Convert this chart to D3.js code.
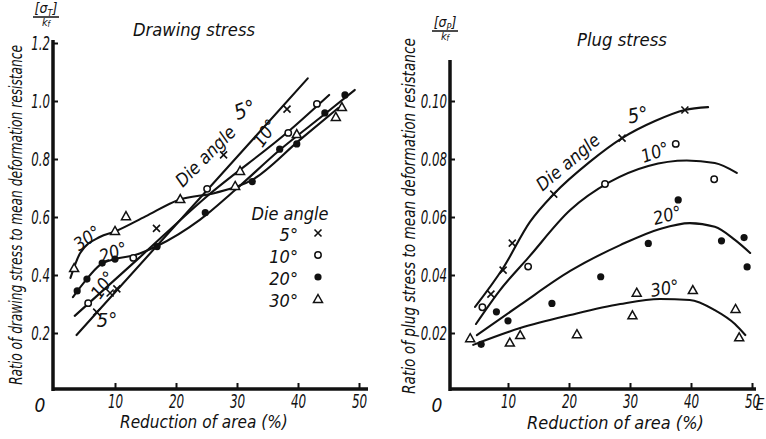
<!DOCTYPE html>
<html>
<head>
<meta charset="utf-8">
<script src="https://cdn.jsdelivr.net/npm/d3@7"></script>
<style>
  body { margin: 0; background: #fff; }
  svg text { font-family: "Liberation Sans Narrow", "DejaVu Sans Condensed", sans-serif; font-style: italic; fill: #111; }
</style>
</head>
<body>
<svg id="chart" width="766" height="439"></svg>
<script>
// ---- data ----
const xTicks = [10, 20, 30, 40, 50];
const drawTicks = [0.2, 0.4, 0.6, 0.8, 1.0, 1.2];
const plugTicks = [0.02, 0.04, 0.06, 0.08, 0.10];
const angles = ["5°", "10°", "20°", "30°"];

// drawing stress: fitted curves (reduction %, ratio)
const drawCurve5 = [[3.7, 0.193], [41.6, 1.078]];
const drawCurve10 = [[3.4, 0.259], [14, 0.46], [25, 0.67], [38.7, 0.9], [45.1, 1.021]];
const drawCurve20 = [[3.1, 0.324], [5.1, 0.379], [7.5, 0.434], [10, 0.455], [13.3, 0.469], [16.9, 0.5],
  [23.9, 0.59], [29.7, 0.693], [37, 0.831], [44.4, 0.955], [49.3, 1.038]];
const drawCurve30 = [[2.7, 0.39], [4.3, 0.476], [7.5, 0.531], [10, 0.55], [15, 0.602], [20.4, 0.659],
  [26.4, 0.683], [32.5, 0.728], [40.3, 0.866], [46.6, 0.976]];

// drawing stress: measured points
const drawPts5 = [[7.0, 0.272], [9.2, 0.338], [10.3, 0.352], [16.8, 0.561], [27.8, 0.814], [38.2, 0.972]];
const drawPts10 = [[5.6, 0.303], [13.0, 0.459], [25.1, 0.697], [38.4, 0.89], [43.1, 0.99]];
const drawPts20 = [[3.8, 0.345], [5.4, 0.386], [7.9, 0.441], [10.0, 0.455], [16.9, 0.498], [24.8, 0.615],
  [32.5, 0.722], [37.0, 0.834], [39.8, 0.852], [44.4, 0.959], [47.7, 1.021]];
const drawPts30 = [[3.3, 0.424], [10.0, 0.552], [11.8, 0.603], [20.7, 0.662], [30.5, 0.759], [29.7, 0.707],
  [39.8, 0.886], [46.2, 0.945], [47.2, 0.979]];

// plug stress: fitted curves
const plugCurve5 = [[4.6, 0.029], [9.2, 0.0424], [13.6, 0.0583], [17.5, 0.0679], [23.4, 0.079],
  [28.7, 0.0872], [34.1, 0.0931], [39.0, 0.0969], [42.8, 0.0979]];
const plugCurve10 = [[4.75, 0.0231], [8.7, 0.0348], [13.3, 0.0459], [20.2, 0.0624], [26.7, 0.0721],
  [33.0, 0.0776], [39.3, 0.0795], [43.9, 0.0786], [47.5, 0.0752]];
const plugCurve20 = [[4.9, 0.0193], [12.0, 0.0297], [20.2, 0.0414], [28.4, 0.0503], [34.9, 0.0559],
  [39.8, 0.0579], [43.9, 0.0566], [47.2, 0.0521], [49.7, 0.0476]];
const plugCurve30 = [[4.3, 0.0159], [12.0, 0.0217], [20.2, 0.0262], [28.4, 0.03], [34.9, 0.0317],
  [39.8, 0.0314], [43.9, 0.0279], [47.2, 0.0231], [48.9, 0.0193]];

// plug stress: measured points
const plugPts5 = [[7.2, 0.0334], [9.2, 0.0417], [10.7, 0.051], [17.5, 0.0679], [28.7, 0.0872], [39.0, 0.0969]];
const plugPts10 = [[5.8, 0.0289], [13.3, 0.0429], [25.9, 0.0714], [37.5, 0.0852], [43.8, 0.073]];
const plugPts20 = [[5.6, 0.0161], [8.1, 0.0273], [10.0, 0.0242], [17.2, 0.0302], [25.2, 0.0394],
  [33.0, 0.0509], [37.9, 0.0659], [45.0, 0.0518], [48.7, 0.0529], [49.2, 0.0428]];
const plugPts30 = [[3.8, 0.0182], [10.3, 0.0167], [12.0, 0.0193], [21.3, 0.0196], [31.1, 0.0339],
  [30.4, 0.0261], [40.3, 0.0348], [47.3, 0.0283], [47.9, 0.0185]];

const svg = d3.select("#chart");
const ink = "#111";

// draws one marker of the given kind at (cx, cy)
function marker(g, kind, cx, cy) {
  if (kind === 0) {
    g.append("path").attr("d", `M${cx - 3.5},${cy - 3.5}L${cx + 3.5},${cy + 3.5}M${cx + 3.5},${cy - 3.5}L${cx - 3.5},${cy + 3.5}`)
      .attr("stroke", ink).attr("stroke-width", 1.6);
  } else if (kind === 1) {
    g.append("circle").attr("cx", cx).attr("cy", cy).attr("r", 3.2)
      .attr("fill", "#fff").attr("stroke", ink).attr("stroke-width", 1.5);
  } else if (kind === 2) {
    g.append("circle").attr("cx", cx).attr("cy", cy).attr("r", 3.6).attr("fill", ink);
  } else {
    g.append("path").attr("d", `M${cx},${cy - 4.5}L${cx + 4.5},${cy + 3.5}L${cx - 4.5},${cy + 3.5}Z`)
      .attr("fill", "#fff").attr("stroke", ink).attr("stroke-width", 1.5);
  }
}

function label(g, txt, x, y, size, rot, anchor) {
  return g.append("text").text(txt)
    .attr("transform", `translate(${x},${y}) rotate(${rot || 0})`)
    .attr("text-anchor", anchor || "middle")
    .attr("dominant-baseline", "central")
    .style("font-size", size + "px");
}

// squeeze a text horizontally so that it spans `len` pixels
function fitText(g, txt, x, y, rot, size, len, anchor) {
  const t = label(g, txt, x, y, size, rot, anchor);
  const k = len / t.node().getComputedTextLength();
  t.attr("transform", `translate(${x},${y}) rotate(${rot}) scale(${k},1)`);
  return t;
}

function tickWidth(s) {
  return s.replace(/\./g, "").length * 7.6 + (s.includes(".") ? 3.5 : 0);
}

function panel(opt) {
  const g = svg.append("g");
  const x = d3.scaleLinear().domain([0, 50]).range(opt.xRange);
  const y = d3.scaleLinear().domain(opt.yDomain).range([391, opt.yTop]);

  // y axis
  const yAxis = d3.axisLeft(y).tickValues(opt.yTicks).tickSize(-5).tickSizeOuter(0)
    .tickPadding(3).tickFormat(opt.yFormat);
  const ya = g.append("g").attr("transform", `translate(${opt.axisX},0)`).call(yAxis);
  ya.select(".domain").remove();
  ya.selectAll(".tick line").attr("stroke", ink).attr("stroke-width", 2);
  ya.selectAll(".tick text").style("font-size", "19px").attr("fill", ink)
    .attr("textLength", function () { return tickWidth(this.textContent); })
    .attr("lengthAdjust", "spacingAndGlyphs");
  g.append("line").attr("x1", opt.axisX).attr("x2", opt.axisX)
    .attr("y1", opt.axisTop).attr("y2", 391).attr("stroke", ink).attr("stroke-width", 3.5);

  // x axis
  const xAxis = d3.axisBottom(x).tickValues(xTicks).tickSize(-6).tickSizeOuter(0).tickPadding(6);
  const xa = g.append("g").attr("transform", "translate(0,389)").call(xAxis);
  xa.select(".domain").remove();
  xa.selectAll(".tick line").attr("stroke", ink).attr("stroke-width", 2);
  xa.selectAll(".tick text").style("font-size", "19px").attr("fill", ink)
    .attr("textLength", function () { return tickWidth(this.textContent); })
    .attr("lengthAdjust", "spacingAndGlyphs");
  g.append("line").attr("x1", opt.axisX - 1).attr("x2", opt.xEnd)
    .attr("y1", 389).attr("y2", 389).attr("stroke", ink).attr("stroke-width", 3.5);
  label(g, "0", opt.axisX - 13, 405, 19, 0);

  // curves
  const line = d3.line().x(d => x(d[0])).y(d => y(d[1])).curve(d3.curveMonotoneX);
  opt.curves.forEach(c => {
    g.append("path").attr("d", line(c)).attr("fill", "none")
      .attr("stroke", ink).attr("stroke-width", 2.1).attr("stroke-linecap", "round");
  });

  // points
  opt.points.forEach((pts, k) => {
    pts.forEach(p => marker(g, k, x(p[0]), y(p[1])));
  });

  // axis titles
  fitText(g, opt.yTitle, opt.yTitleX, opt.yTitleMid, -90, 17, opt.yTitleLen);
  fitText(g, "Reduction of area  (%)", opt.xTitleX, 422, 0, 18, opt.xTitleLen, "start");
  fitText(g, opt.title, opt.titleX, opt.titleY, 0, 17, opt.titleLen, "start");

  // quantity over k_f
  const q = g.append("g").attr("transform", `translate(${opt.qX},${opt.qY})`);
  q.append("text").attr("text-anchor", "middle").attr("y", 0).style("font-size", "14px")
    .html(`[σ<tspan dy="3" font-size="9px">${opt.sub}</tspan><tspan dy="-3">]</tspan>`);
  q.append("line").attr("x1", -13).attr("x2", 13).attr("y1", 4).attr("y2", 4)
    .attr("stroke", ink).attr("stroke-width", 1.5);
  q.append("text").attr("text-anchor", "middle").attr("y", 13).style("font-size", "11px")
    .html(`k<tspan dy="1" font-size="8px">f</tspan>`);

  return { g, x, y };
}

// ---- left: drawing stress ----
const L = panel({
  xRange: [54, 359], yDomain: [0, 1.2], yTop: 43, axisX: 53, axisTop: 40, xEnd: 368,
  yTicks: drawTicks, yFormat: d3.format(".1f"),
  curves: [drawCurve5, drawCurve10, drawCurve20, drawCurve30],
  points: [drawPts5, drawPts10, drawPts20, drawPts30],
  yTitle: "Ratio of drawing stress to mean deformation resistance",
  yTitleX: 16, yTitleMid: 215, yTitleLen: 340,
  xTitleX: 120, xTitleLen: 168,
  title: "Drawing  stress", titleX: 133, titleY: 30, titleLen: 122,
  qX: 46, qY: 13, sub: "T"
});
label(L.g, "Die angle", L.x(24.8), L.y(0.81), 18, -45);
label(L.g, "5°", L.x(31.3), L.y(0.969), 21, -20);
label(L.g, "10°", L.x(34.6), L.y(0.89), 18, -55);
label(L.g, "30°", L.x(5.4), L.y(0.528), 18, -35);
label(L.g, "20°", L.x(9.7), L.y(0.479), 18, -20);
label(L.g, "10°", L.x(8.0), L.y(0.366), 18, -55);
label(L.g, "5°", L.x(8.7), L.y(0.245), 20, 0);

// legend
label(L.g, "Die angle", 290, 213, 18, 0);
angles.forEach((a, i) => {
  label(L.g, a, 298, 234 + i * 22, 18, 0, "end");
  marker(L.g, i, 318, 233 + i * 22);
});

// ---- right: plug stress ----
const R = panel({
  xRange: [447, 752], yDomain: [0, 0.1], yTop: 101, axisX: 450, axisTop: 60, xEnd: 756,
  yTicks: plugTicks, yFormat: d3.format(".2f"),
  curves: [plugCurve5, plugCurve10, plugCurve20, plugCurve30],
  points: [plugPts5, plugPts10, plugPts20, plugPts30],
  yTitle: "Ratio of  plug  stress to mean deformation  resistance",
  yTitleX: 409, yTitleMid: 216, yTitleLen: 356,
  xTitleX: 527, xTitleLen: 177,
  title: "Plug  stress", titleX: 577, titleY: 40, titleLen: 90,
  qX: 445, qY: 27, sub: "P"
});
label(R.g, "Die angle", R.x(19.8), R.y(0.079), 18, -40);
label(R.g, "5°", R.x(31.3), R.y(0.0952), 20, -10);
label(R.g, "10°", R.x(34.1), R.y(0.0824), 18, -20);
label(R.g, "20°", R.x(36.1), R.y(0.0607), 18, -15);
label(R.g, "30°", R.x(35.7), R.y(0.0355), 18, -10);
label(R.g, "E", 760, 405, 15, 0);
</script>
</body>
</html>
